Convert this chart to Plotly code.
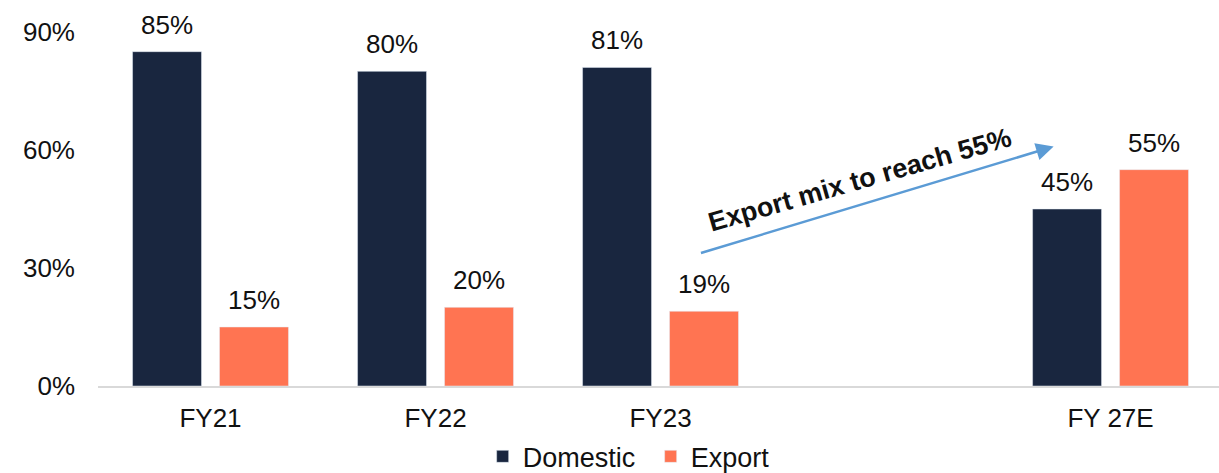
import plotly.graph_objects as go

# Revenue mix by market, share of total (%)
categories = ["FY21", "FY22", "FY23", " ", "FY 27E"]
domestic = [85, 80, 81, None, 45]
export = [15, 20, 19, None, 55]
y_ticks = [0, 30, 60, 90]
y_tick_labels = ["0%", "30%", "60%", "90%"]

NAVY = "#19263F"
ORANGE = "#FF7452"
FONT = "Liberation Sans, Arial, sans-serif"
FS = 26

fig = go.Figure()
fig.add_trace(go.Bar(name="Domestic", x=categories, y=domestic, marker_color=NAVY))
fig.add_trace(go.Bar(name="Export", x=categories, y=export, marker_color=ORANGE))

# value labels above each bar (bar slot offset is +/- half a slot)
annotations = []
for series, shift in ((domestic, -43.5), (export, 43.5)):
    for cat, val in zip(categories, series):
        if val is None:
            continue
        annotations.append(dict(
            x=cat, y=val, xref="x", yref="y", text=f"{val}%",
            showarrow=False, xshift=shift, yanchor="bottom", yshift=10,
            font=dict(family=FONT, size=FS, color="#111111"),
        ))

# trend arrow and callout
annotations.append(dict(
    x=3.747, y=60.9, ax=2.173, ay=33.7, xref="x", yref="y", axref="x", ayref="y",
    text="", showarrow=True, arrowhead=2, arrowsize=1.4, arrowwidth=2.5,
    arrowcolor="#5B9BD5",
))
annotations.append(dict(
    x=2.885, y=52.4, xref="x", yref="y", text="<b>Export mix to reach 55%</b>",
    showarrow=False, textangle=-16,
    font=dict(family=FONT, size=27, color="#111111"),
))

fig.update_layout(
    width=1219, height=473,
    margin=dict(l=98, r=0, t=32, b=87, autoexpand=False),
    paper_bgcolor="white", plot_bgcolor="white",
    barmode="group", bargap=0.227, bargroupgap=0.207,
    font=dict(family=FONT, size=FS, color="#111111"),
    showlegend=True,
    legend=dict(orientation="h", x=0.493, xanchor="center", y=-0.2, yanchor="middle",
                entrywidth=123, entrywidthmode="pixels",
                font=dict(family=FONT, size=27, color="#111111"), traceorder="normal"),
    annotations=annotations,
)
fig.update_xaxes(
    type="category", categoryorder="array", categoryarray=categories,
    range=[-0.5, 4.482], showgrid=False, showline=True, linecolor="#D9D9D9",
    linewidth=2, ticks="", ticklabelstandoff=8,
    tickfont=dict(family=FONT, size=FS, color="#111111"),
)
fig.update_yaxes(
    range=[0, 90], tickvals=y_ticks, ticktext=y_tick_labels, showgrid=False,
    zeroline=False, showline=False, ticks="", ticklabelstandoff=22,
    tickfont=dict(family=FONT, size=FS, color="#111111"),
)

fig.write_html("out.html")
